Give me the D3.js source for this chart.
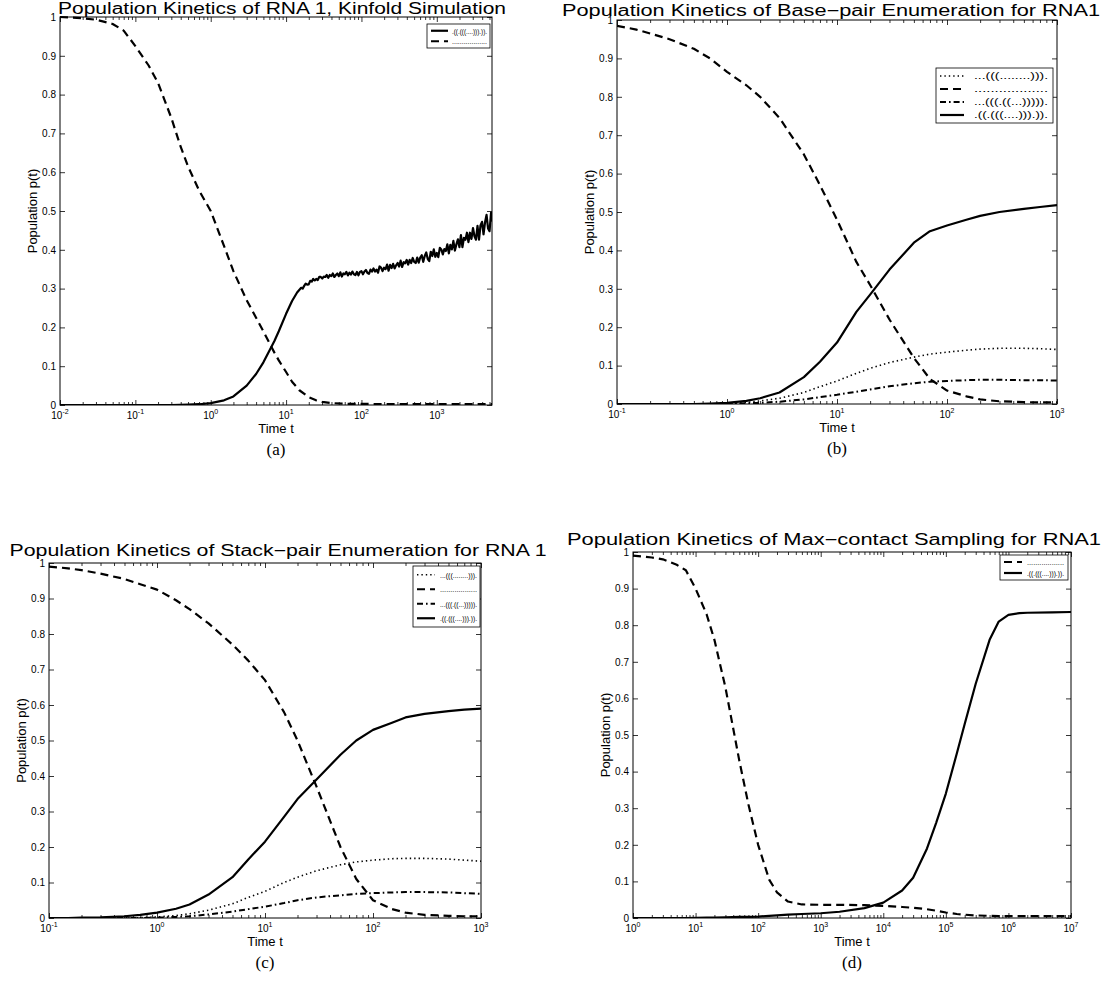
<!DOCTYPE html>
<html><head><meta charset="utf-8">
<script src="https://cdn.jsdelivr.net/npm/d3@7"></script>
<style>body{margin:0;background:#fff}svg{display:block}</style>
</head><body>
<svg id="fig" width="1111" height="985"></svg>
<script>
// ---------- (a) Kinfold simulation ----------
const timeA = [0.01,0.02,0.03,0.05,0.07,0.1,0.15,0.2,0.3,0.4,0.5,0.7,1,1.5,2,3,4,5,6,7,8,10,12,15,20,25,30,40,60,100,200,500,1000,2000,5400];
const openA = [1.0,0.997,0.993,0.982,0.965,0.925,0.875,0.83,0.74,0.665,0.615,0.553,0.5,0.41,0.345,0.27,0.225,0.19,0.16,0.135,0.115,0.085,0.06,0.038,0.02,0.012,0.008,0.005,0.003,0.003,0.002,0.002,0.002,0.002,0.002];
const foldTimeA = [0.01,0.3,0.5,0.7,1,1.5,2,3,4,5,6,7,8,10,12,14];
const foldA = [0,0,0.001,0.002,0.005,0.012,0.022,0.05,0.08,0.11,0.14,0.165,0.19,0.235,0.268,0.29];
// stochastic tail of the folded population, sampled every 0.02 decades from t = 10^1.2
const foldTailStart = 1.2, foldTailStep = 0.02;
const foldTailA = [
0.302,0.300,0.307,0.313,0.310, 0.311,0.320,0.318,0.325,0.321, 0.325,0.322,0.330,0.330,0.326,
0.331,0.330,0.335,0.328,0.335, 0.332,0.339,0.330,0.335,0.339, 0.332,0.342,0.331,0.339,0.337,
0.343,0.334,0.341,0.336,0.344, 0.337,0.335,0.343,0.334,0.343, 0.345,0.337,0.344,0.348,0.340,
0.338,0.349,0.344,0.352,0.344, 0.349,0.341,0.357,0.354,0.345, 0.354,0.350,0.362,0.346,0.361,
0.353,0.364,0.352,0.360,0.366, 0.357,0.372,0.356,0.368,0.365, 0.374,0.362,0.374,0.366,0.379,
0.369,0.366,0.380,0.367,0.380, 0.386,0.369,0.384,0.393,0.376, 0.371,0.395,0.384,0.401,0.382,
0.392,0.381,0.405,0.401,0.388, 0.402,0.397,0.414,0.391,0.413, 0.401,0.423,0.398,0.414,0.427,
0.407,0.438,0.407,0.431,0.426, 0.444,0.420,0.444,0.428,0.456, 0.435,0.426,0.462,0.426,0.463,
0.472,0.440,0.471,0.490,0.455, 0.448,0.496,0.473];

// ---------- (b) base-pair enumeration ----------
const timeB = [0.1,0.15,0.2,0.3,0.5,0.7,1,1.5,2,3,5,7,10,15,20,30,50,70,100,150,200,300,500,700,1000];
const openB   = [0.985,0.975,0.965,0.95,0.925,0.9,0.865,0.83,0.8,0.745,0.65,0.57,0.48,0.37,0.31,0.22,0.12,0.065,0.035,0.02,0.012,0.007,0.005,0.004,0.004];
const nativeB = [0,0,0,0,0,0.001,0.003,0.008,0.015,0.03,0.07,0.11,0.16,0.24,0.285,0.35,0.42,0.45,0.465,0.48,0.49,0.5,0.508,0.513,0.518];
const hairpinB = [0,0,0,0,0,0,0.001,0.004,0.008,0.015,0.03,0.045,0.06,0.08,0.093,0.108,0.122,0.13,0.135,0.14,0.143,0.145,0.145,0.144,0.142];
const innerB  = [0,0,0,0,0,0,0.0005,0.002,0.003,0.006,0.012,0.018,0.024,0.032,0.038,0.046,0.054,0.058,0.06,0.062,0.063,0.063,0.062,0.062,0.061];

// ---------- (c) stack-pair enumeration ----------
const timeC = [0.1,0.15,0.2,0.3,0.5,0.7,1,1.5,2,3,5,7,10,15,20,30,50,70,100,150,200,300,500,700,1000];
const openC   = [0.99,0.985,0.98,0.97,0.955,0.94,0.925,0.895,0.87,0.83,0.77,0.725,0.67,0.58,0.5,0.37,0.2,0.11,0.05,0.025,0.015,0.009,0.006,0.005,0.005];
const nativeC = [0,0,0.001,0.002,0.005,0.009,0.015,0.026,0.038,0.066,0.115,0.165,0.215,0.285,0.335,0.39,0.46,0.5,0.53,0.55,0.565,0.575,0.583,0.587,0.59];
const hairpinC = [0,0,0,0,0,0.001,0.003,0.007,0.012,0.022,0.04,0.058,0.075,0.1,0.115,0.133,0.15,0.158,0.163,0.167,0.168,0.168,0.166,0.163,0.16];
const innerC  = [0,0,0,0,0,0,0.001,0.003,0.005,0.01,0.018,0.025,0.032,0.042,0.05,0.058,0.064,0.068,0.07,0.072,0.073,0.073,0.072,0.07,0.068];

// ---------- (d) max-contact sampling ----------
const timeD = [1,2,3,5,7,10,15,20,30,50,70,100,150,200,300,500,1000,2000,5000,1e4,2e4,3e4,5e4,7e4,1e5,1.5e5,2e5,3e5,5e5,7e5,1e6,1.5e6,2e6,5e6,1e7];
const openD   = [0.99,0.985,0.98,0.965,0.95,0.9,0.83,0.76,0.63,0.43,0.31,0.2,0.105,0.07,0.045,0.037,0.036,0.036,0.035,0.033,0.03,0.028,0.024,0.02,0.015,0.011,0.009,0.007,0.006,0.005,0.005,0.005,0.005,0.005,0.005];
const nativeD = [0,0,0,0,0,0.0005,0.001,0.001,0.002,0.003,0.003,0.004,0.006,0.007,0.009,0.011,0.013,0.017,0.027,0.042,0.075,0.11,0.19,0.26,0.34,0.45,0.53,0.64,0.76,0.81,0.828,0.833,0.834,0.835,0.836];

// legend labels (secondary structures)
const sOpen = "..................";
const sNative = ".((.(((....))).)).";
const sHairpin = "...(((........))).";
const sInner = "...(((.((...))))).";

const yTicks = [0,0.1,0.2,0.3,0.4,0.5,0.6,0.7,0.8,0.9,1];

const STY = {
  solid:   {w:2.2, dash:null},
  dashed:  {w:2.2, dash:"8,5"},
  dotted:  {w:1.6, dash:"1.4,3"},
  dashdot: {w:2.0, dash:"6,3,1.6,3"}
};

const svg = d3.select("#fig");
svg.append("rect").attr("width",1111).attr("height",985).attr("fill","#fff");
const FONT = "'Liberation Sans', Arial, Helvetica, sans-serif";

const zip = (t, v) => t.map((d, i) => [d, v[i]]);
const isDecade = v => Math.abs(Math.log10(v) - Math.round(Math.log10(v))) < 1e-6;

function panel(p, idx) {
  const x = d3.scaleLog().domain(p.xDomain).range([p.left, p.right]);
  const y = d3.scaleLinear().domain([0, 1]).range([p.bottom, p.top]);
  const g = svg.append("g");
  const cid = "clip" + idx;
  g.append("clipPath").attr("id", cid).append("rect")
    .attr("x", p.left).attr("y", p.top - 2).attr("width", p.right - p.left).attr("height", p.bottom - p.top + 2);

  const line = d3.line().x(d => x(d[0])).y(d => y(d[1]));
  const plot = g.append("g").attr("clip-path", `url(#${cid})`);
  p.series.forEach(s => {
    const st = STY[s.style];
    plot.append("path").datum(s.points).attr("d", line)
      .attr("fill", "none").attr("stroke", "#000")
      .attr("stroke-width", st.w).attr("stroke-linejoin", "round")
      .attr("stroke-dasharray", st.dash);
  });

  // x ticks: decades (major) and 2..9 multiples (minor)
  const all = x.ticks(15);
  const major = all.filter(isDecade);
  const minor = all.filter(v => !isDecade(v));
  const addX = (gen, ty, vals, size) => {
    const a = g.append("g").attr("transform", `translate(0,${ty})`)
      .call(gen(x).tickValues(vals).tickSize(-size).tickFormat(""));
    a.select(".domain").remove();
    a.selectAll("line").attr("stroke", "#000").attr("stroke-width", 0.8);
  };
  addX(d3.axisBottom, p.bottom, major, 5);
  addX(d3.axisBottom, p.bottom, minor, 3);
  addX(d3.axisTop, p.top, major, 5);
  addX(d3.axisTop, p.top, minor, 3);

  // y ticks
  const yl = g.append("g").attr("transform", `translate(${p.left},0)`)
    .call(d3.axisLeft(y).tickValues(yTicks).tickSize(-5).tickPadding(4)
      .tickFormat(d => d === 0 ? "0" : d === 1 ? "1" : d3.format(".1f")(d)));
  yl.select(".domain").remove();
  yl.selectAll("line").attr("stroke", "#000").attr("stroke-width", 0.8);
  yl.selectAll("text").attr("font-family", FONT).attr("font-size", 10).attr("fill", "#000");
  const yr = g.append("g").attr("transform", `translate(${p.right},0)`)
    .call(d3.axisRight(y).tickValues(yTicks).tickSize(-5).tickFormat(""));
  yr.select(".domain").remove();
  yr.selectAll("line").attr("stroke", "#000").attr("stroke-width", 0.8);

  // frame
  g.append("rect").attr("x", p.left).attr("y", p.top)
    .attr("width", p.right - p.left).attr("height", p.bottom - p.top)
    .attr("fill", "none").attr("stroke", "#000").attr("stroke-width", 1);

  // decade labels 10^k
  major.forEach(v => {
    const t = g.append("text").attr("x", x(v)).attr("y", p.bottom + 14)
      .attr("text-anchor", "middle").attr("font-family", FONT).attr("font-size", 10).attr("fill", "#000");
    t.append("tspan").text("10");
    t.append("tspan").attr("dy", -5).attr("font-size", 7).text(Math.round(Math.log10(v)));
  });

  // axis titles
  g.append("text").attr("x", (p.left + p.right) / 2).attr("y", p.bottom + 28)
    .attr("text-anchor", "middle").attr("font-family", FONT).attr("font-size", 13).text("Time t");
  g.append("text").attr("transform", `translate(${p.left - 23},${(p.top + p.bottom) / 2}) rotate(-90)`)
    .attr("text-anchor", "middle").attr("font-family", FONT).attr("font-size", 13).text("Population p(t)");
  g.append("text").attr("x", (p.left + p.right) / 2).attr("y", p.bottom + 50)
    .attr("text-anchor", "middle").attr("font-family", "'Liberation Serif', 'Times New Roman', serif")
    .attr("font-size", 17).text(p.letter);
  g.append("text").attr("x", p.titleX).attr("y", p.titleY)
    .attr("text-anchor", "middle").attr("font-family", FONT).attr("font-size", 16)
    .attr("textLength", p.titleW).attr("lengthAdjust", "spacingAndGlyphs").text(p.title);

  // legend
  const L = p.legend;
  const lg = g.append("g");
  lg.append("rect").attr("x", L.x).attr("y", L.y).attr("width", L.w)
    .attr("height", L.rowH * L.items.length + 3)
    .attr("fill", "#fff").attr("stroke", "#000").attr("stroke-width", 0.8);
  L.items.forEach((it, i) => {
    const cy = L.y + 1.5 + L.rowH * (i + 0.5);
    const st = STY[it.style];
    lg.append("line").attr("x1", L.x + 4).attr("x2", L.x + 4 + L.sample).attr("y1", cy).attr("y2", cy)
      .attr("stroke", "#000").attr("stroke-width", st.w).attr("stroke-dasharray", st.dash);
    lg.append("text").attr("x", L.x + L.textX).attr("y", cy + 3)
      .attr("font-family", FONT).attr("font-size", L.font).attr("fill", "#000")
      .attr("textLength", L.textW).attr("lengthAdjust", "spacingAndGlyphs").text(it.label);
  });
}

const panels = [
  { left: 60, right: 492, top: 17, bottom: 405, xDomain: [0.01, 5400], letter: "(a)",
    title: "Population Kinetics of RNA 1, Kinfold Simulation", titleX: 282, titleY: 14, titleW: 448,
    series: [
      { style: "dashed", points: zip(timeA, openA) },
      { style: "solid", points: zip(foldTimeA, foldA).concat(
          foldTailA.map((v, i) => [Math.pow(10, foldTailStart + i * foldTailStep), v])) }
    ],
    legend: { x: 427, y: 24, w: 63, rowH: 10.5, sample: 17, textX: 25, textW: 35, font: 8,
      items: [{ style: "solid", label: sNative }, { style: "dashed", label: sOpen }] } },
  { left: 617, right: 1057, top: 20, bottom: 404, xDomain: [0.1, 1000], letter: "(b)",
    title: "Population Kinetics of Base\u2212pair Enumeration for RNA1", titleX: 831, titleY: 16, titleW: 538,
    series: [
      { style: "dotted", points: zip(timeB, hairpinB) },
      { style: "dashed", points: zip(timeB, openB) },
      { style: "dashdot", points: zip(timeB, innerB) },
      { style: "solid", points: zip(timeB, nativeB) }
    ],
    legend: { x: 936, y: 68, w: 117, rowH: 13, sample: 24, textX: 38, textW: 74, font: 9,
      items: [{ style: "dotted", label: sHairpin }, { style: "dashed", label: sOpen },
              { style: "dashdot", label: sInner }, { style: "solid", label: sNative }] } },
  { left: 49, right: 481, top: 563, bottom: 918, xDomain: [0.1, 1000], letter: "(c)",
    title: "Population Kinetics of Stack\u2212pair Enumeration for RNA 1", titleX: 278, titleY: 556, titleW: 537,
    series: [
      { style: "dotted", points: zip(timeC, hairpinC) },
      { style: "dashed", points: zip(timeC, openC) },
      { style: "dashdot", points: zip(timeC, innerC) },
      { style: "solid", points: zip(timeC, nativeC) }
    ],
    legend: { x: 413, y: 566, w: 67, rowH: 14.5, sample: 18, textX: 27, textW: 37, font: 8,
      items: [{ style: "dotted", label: sHairpin }, { style: "dashed", label: sOpen },
              { style: "dashdot", label: sInner }, { style: "solid", label: sNative }] } },
  { left: 633, right: 1071, top: 552, bottom: 918, xDomain: [1, 1e7], letter: "(d)",
    title: "Population Kinetics of Max\u2212contact Sampling for RNA1", titleX: 834, titleY: 545, titleW: 534,
    series: [
      { style: "dashed", points: zip(timeD, openD) },
      { style: "solid", points: zip(timeD, nativeD) }
    ],
    legend: { x: 1000, y: 555, w: 68, rowH: 11, sample: 18, textX: 27, textW: 37, font: 8,
      items: [{ style: "dashed", label: sOpen }, { style: "solid", label: sNative }] } }
];

panels.forEach(panel);
</script>
</body></html>
